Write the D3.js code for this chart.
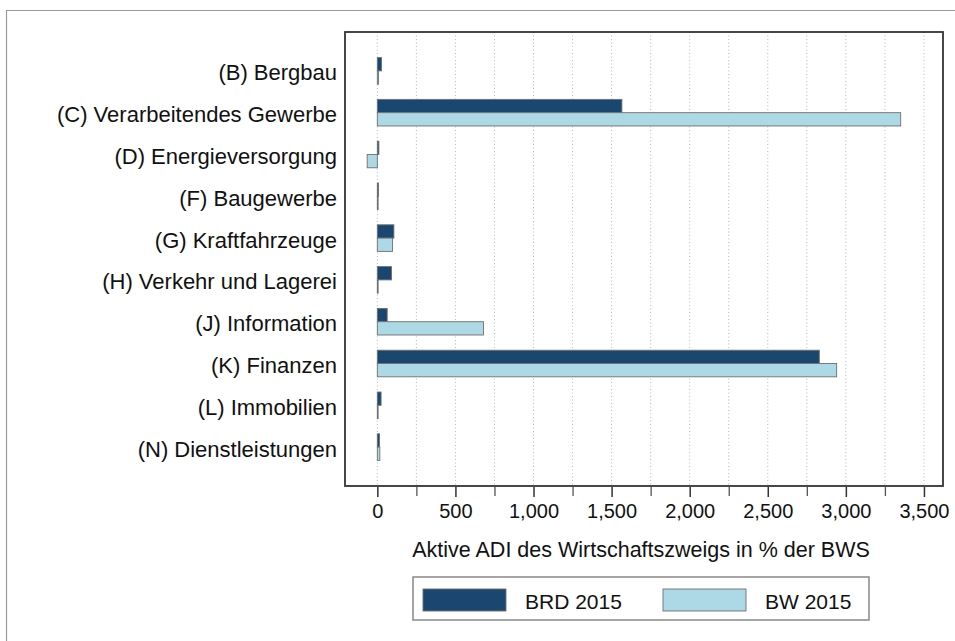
<!DOCTYPE html>
<html><head><meta charset="utf-8">
<script src="https://cdn.jsdelivr.net/npm/d3@7"></script>
<style>
html,body{margin:0;padding:0;background:#fff;}
svg{display:block;font-family:"Liberation Sans",Arial,Helvetica,sans-serif;}
</style></head>
<body>
<svg id="chart" width="955" height="641"></svg>
<script>
const categories = ["(B) Bergbau","(C) Verarbeitendes Gewerbe","(D) Energieversorgung","(F) Baugewerbe","(G) Kraftfahrzeuge","(H) Verkehr und Lagerei","(J) Information","(K) Finanzen","(L) Immobilien","(N) Dienstleistungen"];
const brd2015 = [27, 1566, 10, 8, 106, 91, 63, 2830, 24, 14];
const bw2015  = [8, 3351, -65, 2, 97, 3, 680, 2941, 2, 16];
const seriesNames = ["BRD 2015","BW 2015"];
const tickValues = [0,500,1000,1500,2000,2500,3000,3500];
const gridValues = [0,250,500,750,1000,1250,1500,1750,2000,2250,2500,2750,3000,3250,3500];
const colors = ["#1a476f","#add8e6"];

const svg = d3.select("#chart");
const L = 345, R = 943, T = 32, B = 486;

// outer frame (top & left visible)
svg.append("line").attr("x1",6).attr("x2",955).attr("y1",10.5).attr("y2",10.5).attr("stroke","#999").attr("stroke-width",1.2);
svg.append("line").attr("x1",6.5).attr("x2",6.5).attr("y1",10).attr("y2",641).attr("stroke","#999").attr("stroke-width",1.2);

const x = d3.scaleLinear().domain([-207, 3622]).range([L, R]);
const y = d3.scaleBand().domain(categories).range([T, B]).paddingInner(0.364).paddingOuter(0.612);
const ySub = d3.scaleBand().domain(seriesNames).range([0, y.bandwidth()]);

// grid
svg.append("g").selectAll("line").data(gridValues).join("line")
  .attr("x1", d=>x(d)).attr("x2", d=>x(d)).attr("y1", T).attr("y2", B)
  .attr("stroke","#b8b8b8").attr("stroke-width",1).attr("stroke-dasharray","1,2.5");

// bars
const rows = categories.map((c,i)=>({c, vals:[brd2015[i], bw2015[i]]}));
const g = svg.append("g");
rows.forEach(r=>{
  r.vals.forEach((v,j)=>{
    g.append("rect")
      .attr("x", x(Math.min(0,v)))
      .attr("width", Math.max(0.8, Math.abs(x(v)-x(0))))
      .attr("y", y(r.c)+ySub(seriesNames[j]))
      .attr("height", ySub.bandwidth())
      .attr("fill", colors[j])
      .attr("stroke","#6f6f6f").attr("stroke-width",0.9);
  });
});

// frame
svg.append("rect").attr("x",L).attr("y",T).attr("width",R-L).attr("height",B-T)
  .attr("fill","none").attr("stroke","#333").attr("stroke-width",1.8);

// x axis
const xAxis = d3.axisBottom(x).tickValues(tickValues).tickFormat(d3.format(",")).tickSize(10).tickPadding(7);
const ax = svg.append("g").attr("transform",`translate(0,${B+1})`).call(xAxis);
ax.select(".domain").remove();
ax.selectAll(".tick line").attr("stroke","#333").attr("stroke-width",1.5);
ax.selectAll(".tick text").attr("font-size",20).attr("fill","#111").attr("font-family","Liberation Sans, Arial, sans-serif");
const minor = d3.axisBottom(x).tickValues(gridValues.filter(d=>d%500!==0)).tickFormat("").tickSize(9);
const mx = svg.append("g").attr("transform",`translate(0,${B+1})`).call(minor);
mx.select(".domain").remove();
mx.selectAll(".tick line").attr("stroke","#555").attr("stroke-width",1.3);

// y labels
svg.append("g").selectAll("text").data(categories).join("text")
  .attr("x", L-8).attr("y", d=>y(d)+y.bandwidth()/2+2)
  .attr("text-anchor","end").attr("dominant-baseline","central")
  .attr("font-size",22).attr("fill","#111").text(d=>d);

// axis title
svg.append("text").attr("x",(L+R)/2-3).attr("y",557).attr("text-anchor","middle")
  .attr("font-size",21.5).attr("fill","#111").text("Aktive ADI des Wirtschaftszweigs in % der BWS");

// legend
const lg = svg.append("g");
lg.append("rect").attr("x",413).attr("y",577).attr("width",456).attr("height",43)
  .attr("fill","#fff").attr("stroke","#888").attr("stroke-width",1.5);
const legX = [423, 663];
seriesNames.forEach((s,i)=>{
  lg.append("rect").attr("x",legX[i]).attr("y",589).attr("width",83).attr("height",22)
    .attr("fill",colors[i]).attr("stroke","#6f6f6f").attr("stroke-width",0.9);
  lg.append("text").attr("x",legX[i]+102).attr("y",609).attr("font-size",21).attr("fill","#111").text(s);
});
</script>
</body></html>
